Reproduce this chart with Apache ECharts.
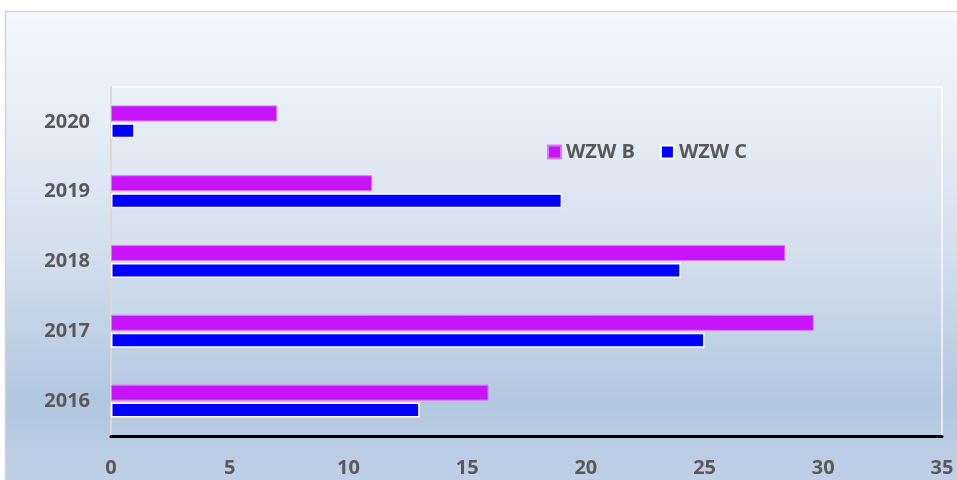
<!DOCTYPE html>
<html><head><meta charset="utf-8">
<script src="https://cdn.jsdelivr.net/npm/echarts@6/dist/echarts.min.js"></script>
<style>html,body{margin:0;padding:0;background:#fff}#c{width:957px;height:480px}</style>
</head><body><div id="c"></div>
<script>
const categories = ['2016', '2017', '2018', '2019', '2020'];
const seriesNames = ['WZW B', 'WZW C'];
const wzwB = [15.9, 29.6, 28.4, 11, 7];
const wzwC = [13, 25, 24, 19, 1];
const xTicks = [0, 5, 10, 15, 20, 25, 30, 35];

const chart = echarts.init(document.getElementById('c'));
const font = 'Open Sans, Liberation Sans, sans-serif';
chart.setOption({
  backgroundColor: '#ffffff',
  animation: false,
  graphic: [{
    type: 'rect', z: -10, silent: true,
    shape: { x: 5.5, y: 11.5, width: 1000, height: 520 },
    style: {
      fill: new echarts.graphic.LinearGradient(0, 0, 0, 1, [
        { offset: 0, color: '#f5f8fc' },
        { offset: 0.45, color: '#d5e0ee' },
        { offset: 0.75, color: '#b1c6e0' },
        { offset: 1, color: '#c9d7ea' }
      ]),
      stroke: '#d4d4d4', lineWidth: 1.5
    }
  }],
  legend: {
    data: seriesNames,
    left: 542, top: 137,
    itemWidth: 13, itemHeight: 13, itemGap: 25,
    icon: 'rect',
    textStyle: { color: '#595959', fontWeight: 'bold', fontSize: 20, fontFamily: font }
  },
  grid: {
    left: 111, right: 15, top: 87, bottom: 44,
    show: true,
    backgroundColor: 'rgba(255,255,255,0.03)',
    borderColor: 'rgba(255,255,255,0.85)', borderWidth: 1.5
  },
  xAxis: {
    type: 'value', min: 0, max: 35, interval: 5,
    axisLine: { show: true, lineStyle: { color: '#000', width: 3 } },
    axisTick: { show: false },
    splitLine: { show: false },
    axisLabel: {
      color: '#595959', fontWeight: 'bold', fontSize: 20, fontFamily: font, margin: 22,
      formatter: v => xTicks.includes(v) ? String(v) : ''
    }
  },
  yAxis: {
    type: 'category', data: categories,
    axisLine: { show: true, lineStyle: { color: '#d9d9d9', width: 2 } },
    axisTick: { show: false },
    axisLabel: { color: '#595959', fontWeight: 'bold', fontSize: 20, fontFamily: font, margin: 21 }
  },
  series: [
    {
      name: seriesNames[0], type: 'bar', data: wzwB, barWidth: 16, barGap: '12%',
      itemStyle: { color: '#c814fc', borderColor: '#dc78f5', borderWidth: 1 }
    },
    {
      name: seriesNames[1], type: 'bar', data: wzwC, barWidth: 15, barGap: '12%',
      itemStyle: { color: '#0000ff', borderColor: '#ffffff', borderWidth: 1.5 }
    }
  ]
});
</script></body></html>
